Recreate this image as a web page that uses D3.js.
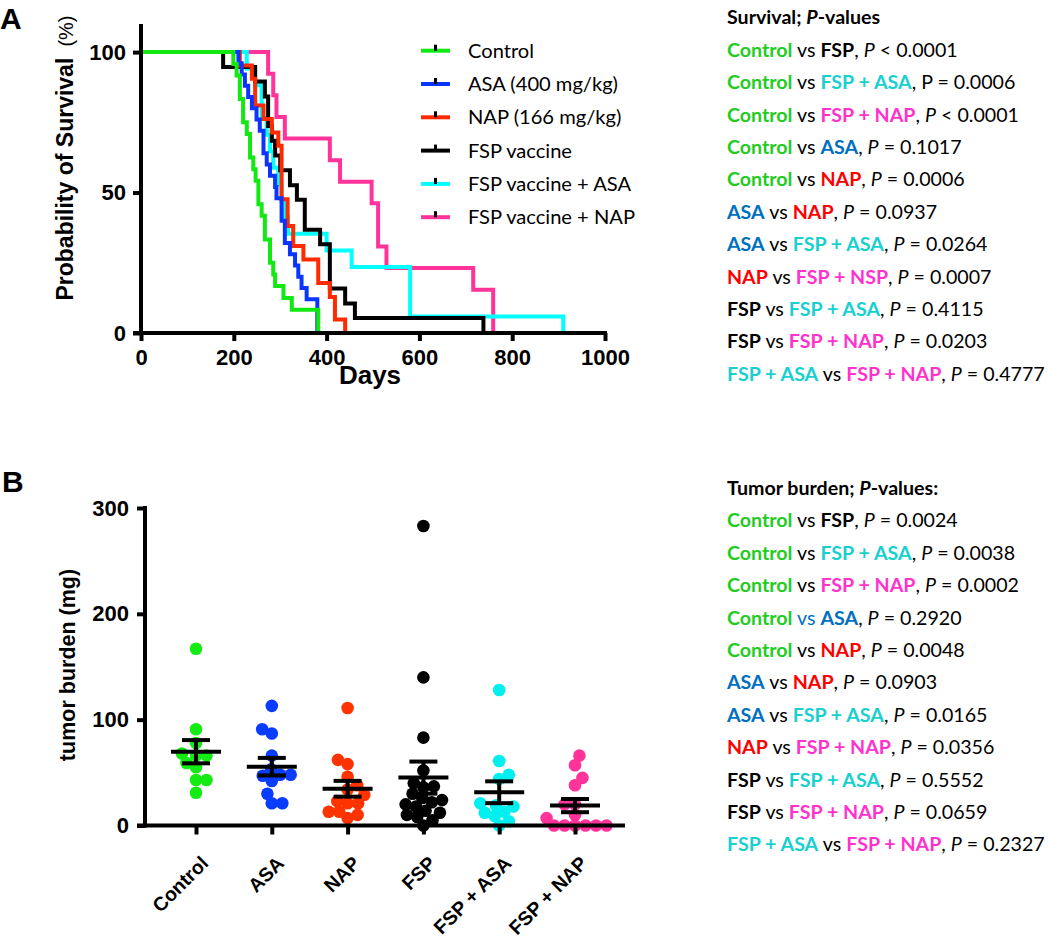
<!DOCTYPE html>
<html><head><meta charset="utf-8">
<script src="https://cdn.jsdelivr.net/npm/d3@7"></script>
<style>body{margin:0;background:#fff}svg{display:block}</style>
</head><body>
<svg id="c" width="1050" height="941"></svg>
<script>
// ---------------- DATA ----------------
// Panel A: Kaplan-Meier survival steps [day, % surviving after event]
const survivalGroups = ["Control","ASA (400 mg/kg)","NAP (166 mg/kg)","FSP vaccine","FSP vaccine + ASA","FSP vaccine + NAP"];
const survControl = [[0,100],[199,95.8],[206,91.7],[213,83.3],[220,75],[228,70.8],[235,62.5],[242,58.3],[247,54.2],[253,45.8],[260,41.7],[267,33.3],[278,25],[285,20.8],[289,16.7],[307,12.5],[325,8.3],[382,0]];
const survASA = [[0,100],[210,96],[217,92],[224,88],[231,84],[239,80],[249,76],[256,72],[264,64],[271,60],[278,56],[289,52],[292,48],[303,40],[310,32],[321,28],[332,24],[339,20],[346,16],[357,12],[380,0]];
const survNAP = [[0,100],[213,95.2],[239,90.5],[246,81],[264,76.2],[282,71.4],[296,66.7],[303,47.6],[316,38.1],[328,31],[350,26.2],[382,17.8],[407,12.8],[418,4.8],[440,0]];
const survFSP = [[0,100],[177,94.7],[246,89.5],[267,84.2],[274,73.7],[282,68.4],[289,63.2],[300,57.9],[321,52.6],[336,47.4],[353,36.8],[386,31.6],[407,15.8],[440,10.5],[461,5.3],[738,0]];
const survFSPASA = [[0,100],[228,94.1],[246,88.2],[260,76.5],[271,70.6],[278,64.7],[285,58.8],[296,52.9],[303,47.1],[310,41.2],[317,35.3],[400,29.4],[454,23.5],[580,5.9],[910,0]];
const survFSPNAP = [[0,100],[274,92.3],[285,84.6],[292,76.9],[310,69.2],[407,61.5],[429,53.8],[497,46.2],[511,30.8],[529,23.1],[716,15.4],[759,0]];
const dayTicks = [0,200,400,600,800,1000];
const survTicks = [0,50,100];

// Panel B: tumor burden (mg) per mouse
const burdenCategories = ["Control","ASA","NAP","FSP","FSP + ASA","FSP + NAP"];
const burdenControl = [167,91,78,66,68,66,59,55,43,43,31];
const burdenASA = [113,91,87,66,53,48,48,47,42,30,21,21];
const burdenNAP = [111,62,58,46,38,34,29,23,21,21,13,13,10,7];
const burdenFSP = [283,140,83,52,40,37,36,30,26,24,22,20,18,14,12,10,8,5,0];
const burdenFSPASA = [128,61,48,44,21,19,18,13,12,9,4,0];
const burdenFSPNAP = [66,57,45,38,20,20,10,7,0,0,0,0,0,0];
const burdenTicks = [0,100,200,300];

// P-value tables
const survivalTitle = ["Survival; ","P","-values"];
const survivalRows = [
 ["Control","FSP","<","0.0001",true],
 ["Control","FSP + ASA","=","0.0006",false],
 ["Control","FSP + NAP","<","0.0001",true],
 ["Control","ASA","=","0.1017",true],
 ["Control","NAP","=","0.0006",true],
 ["ASA","NAP","=","0.0937",true],
 ["ASA","FSP + ASA","=","0.0264",true],
 ["NAP","FSP + NSP","=","0.0007",true],
 ["FSP","FSP + ASA","=","0.4115",true],
 ["FSP","FSP + NAP","=","0.0203",true],
 ["FSP + ASA","FSP + NAP","=","0.4777",true]];
const tumorTitle = ["Tumor burden; ","P","-values:"];
const tumorRows = [
 ["Control","FSP","=","0.0024",null],
 ["Control","FSP + ASA","=","0.0038",null],
 ["Control","FSP + NAP","=","0.0002",null],
 ["Control","ASA","=","0.2920","ASA"],
 ["Control","NAP","=","0.0048",null],
 ["ASA","NAP","=","0.0903",null],
 ["ASA","FSP + ASA","=","0.0165",null],
 ["NAP","FSP + NAP","=","0.0356",null],
 ["FSP","FSP + ASA","=","0.5552",null],
 ["FSP","FSP + NAP","=","0.0659",null],
 ["FSP + ASA","FSP + NAP","=","0.2327",null]];

// ---------------- STYLE ----------------
const curveColors = ["#12e812","#0a35ff","#ff2a00","#000000","#00ffff","#ff3399"];
const dotColors = ["#14ea14","#0a3cff","#ff3300","#000000","#00f0f0","#ff3399"];
const nameColor = {"Control":"#22cc22","FSP":"#000000","FSP + ASA":"#18d0d0","FSP + NAP":"#ff33cc","FSP + NSP":"#ff33cc","ASA":"#0070c0","NAP":"#ff0000"};
const fAxis = "'Liberation Sans', Arial, sans-serif";
const fText = "Lato, 'Open Sans', sans-serif";

const svg = d3.select("#c");

// ---------------- PANEL A ----------------
const xA = d3.scaleLinear().domain([0,1000]).range([141,605]);
const yA = d3.scaleLinear().domain([0,110]).range([333,24]);
const gA = svg.append("g");
const stepLine = d3.line().x(d=>xA(d[0])).y(d=>yA(d[1])).curve(d3.curveStepAfter);
const survSeries = [survControl,survASA,survNAP,survFSP,survFSPASA,survFSPNAP];
d3.range(survSeries.length).reverse().forEach(i=>{
  gA.append("path").attr("d",stepLine(survSeries[i])).attr("fill","none")
    .attr("stroke",curveColors[i]).attr("stroke-width",4).attr("stroke-linejoin","miter");
});
const axYA = gA.append("g").attr("transform",`translate(${xA(0)},0)`)
  .call(d3.axisLeft(yA).tickValues(survTicks).tickSize(8).tickPadding(7).tickSizeOuter(0));
const axXA = gA.append("g").attr("transform",`translate(0,${yA(0)})`)
  .call(d3.axisBottom(xA).tickValues(dayTicks).tickFormat(d3.format("d")).tickSize(8).tickPadding(8).tickSizeOuter(0));
[axYA,axXA].forEach(a=>{
  a.select(".domain").remove();
  a.selectAll(".tick line").attr("stroke","#000").attr("stroke-width",4);
  a.selectAll(".tick text").attr("fill","#000").style("font-family",fAxis).style("font-weight","bold").style("font-size","22px");
});
gA.append("line").attr("x1",xA(0)).attr("x2",xA(0)).attr("y1",yA(110)).attr("y2",yA(0)+2).attr("stroke","#000").attr("stroke-width",4);
gA.append("line").attr("x1",xA(0)-8).attr("x2",xA(1000)+2).attr("y1",yA(0)).attr("y2",yA(0)).attr("stroke","#000").attr("stroke-width",4);
gA.append("text").attr("x",370).attr("y",384).attr("text-anchor","middle")
  .style("font-family",fAxis).style("font-weight","bold").style("font-size","26px").text("Days");
const yLabA = gA.append("text").attr("transform","translate(73,158) rotate(-90)").attr("text-anchor","middle")
  .style("font-family",fAxis).style("font-size","23px").style("white-space","pre");
yLabA.append("tspan").style("font-weight","bold").text("Probability of Survival");
yLabA.append("tspan").style("font-size","20px").text("  (%)");
svg.append("text").attr("x",0).attr("y",29).style("font-family",fAxis).style("font-weight","bold").style("font-size","30px").text("A");

// legend
const legY = i => 50.7 + i*33.3;
const leg = gA.append("g");
survivalGroups.forEach((name,i)=>{
  leg.append("line").attr("x1",421).attr("x2",450).attr("y1",legY(i)).attr("y2",legY(i)).attr("stroke",curveColors[i]).attr("stroke-width",4);
  leg.append("rect").attr("x",434).attr("y",legY(i)-6).attr("width",3).attr("height",6).attr("fill","#000");
  leg.append("text").attr("class","legtxt").attr("x",468).attr("y",legY(i)+7).style("font-family",fText).style("font-size","20px").text(name);
});
{
  const ref = leg.selectAll(".legtxt").filter((d,i)=>i===3).node();
  const w = ref.getComputedTextLength();
  leg.selectAll(".legtxt").style("font-size",(20*104/w)+"px");
}

// ---------------- PANEL B ----------------
const xB = d3.scalePoint().domain(burdenCategories).range([196,575]);
const yB = d3.scaleLinear().domain([0,300]).range([825.5,508]);
const gB = svg.append("g");
const burdenSeries = [burdenControl,burdenASA,burdenNAP,burdenFSP,burdenFSPASA,burdenFSPNAP];
const R = 6.3, D = 10.5;
function swarm(values){
  const pts = values.map(v=>({v,y:yB(v)}));
  const order = pts.slice().sort((a,b)=>a.v-b.v);
  const placed = [];
  order.forEach(p=>{
    const blocked = [];
    placed.forEach(q=>{const dy=Math.abs(q.y-p.y); if(dy<D){const w=Math.sqrt(D*D-dy*dy); blocked.push([q.dx-w,q.dx+w]);}});
    const cands=[0]; blocked.forEach(b=>cands.push(b[0],b[1]));
    const ok=c=>blocked.every(b=>c<=b[0]+1e-6||c>=b[1]-1e-6);
    const bal = d3.sum(placed,q=>q.dx);
    let best=null;
    cands.filter(ok).forEach(c=>{
      if(best===null){best=c;return;}
      const a=Math.abs(c), b=Math.abs(best);
      if(a<b-1e-6) best=c;
      else if(Math.abs(a-b)<1e-6 && (bal>0 ? c<best : c>best)) best=c;
    });
    p.dx=best; placed.push(p);
  });
  return pts;
}
burdenSeries.forEach((vals,i)=>{
  const cx = xB(burdenCategories[i]);
  gB.append("g").selectAll("circle").data(swarm(vals)).join("circle")
    .attr("cx",d=>cx+d.dx).attr("cy",d=>d.y).attr("r",R).attr("fill",dotColors[i]);
});
burdenSeries.forEach((vals,i)=>{
  const cx = xB(burdenCategories[i]);
  const m = d3.mean(vals), s = d3.deviation(vals)/Math.sqrt(vals.length);
  const g = gB.append("g").attr("stroke","#000").attr("stroke-width",4);
  g.append("line").attr("x1",cx-25).attr("x2",cx+25).attr("y1",yB(m)).attr("y2",yB(m));
  g.append("line").attr("x1",cx).attr("x2",cx).attr("y1",yB(m+s)).attr("y2",yB(m-s));
  g.append("line").attr("x1",cx-14).attr("x2",cx+14).attr("y1",yB(m+s)).attr("y2",yB(m+s));
  g.append("line").attr("x1",cx-14).attr("x2",cx+14).attr("y1",yB(m-s)).attr("y2",yB(m-s));
});
const axYB = gB.append("g").attr("transform","translate(145,0)")
  .call(d3.axisLeft(yB).tickValues(burdenTicks).tickSize(8).tickPadding(8).tickSizeOuter(0));
const axXB = gB.append("g").attr("transform",`translate(0,${yB(0)})`)
  .call(d3.axisBottom(xB).tickSize(9).tickSizeOuter(0));
[axYB,axXB].forEach(a=>{
  a.select(".domain").remove();
  a.selectAll(".tick line").attr("stroke","#000").attr("stroke-width",4);
  a.selectAll(".tick text").attr("fill","#000").style("font-family",fAxis).style("font-weight","bold").style("font-size","22px");
});
axXB.selectAll(".tick text").style("font-size","19.5px").attr("y",0).attr("dy",0).attr("text-anchor","end")
  .attr("transform","translate(13,39) rotate(-45)");
gB.append("line").attr("x1",145).attr("x2",145).attr("y1",yB(300)-2).attr("y2",yB(0)+2).attr("stroke","#000").attr("stroke-width",4);
gB.append("line").attr("x1",137).attr("x2",625).attr("y1",yB(0)).attr("y2",yB(0)).attr("stroke","#000").attr("stroke-width",4);
gB.append("text").attr("transform","translate(75,665) rotate(-90)").attr("text-anchor","middle")
  .style("font-family",fAxis).style("font-weight","bold").style("font-size","21.5px").text("tumor burden (mg)");
svg.append("text").attr("x",2).attr("y",492).style("font-family",fAxis).style("font-weight","bold").style("font-size","30px").text("B");

// ---------------- P-VALUE TABLES ----------------
const gT = svg.append("g").style("font-family",fText).style("font-size","20px");
function title(t,y){
  const el = gT.append("text").attr("x",727).attr("y",y).style("font-weight","bold").style("white-space","pre");
  el.append("tspan").text(t[0]);
  el.append("tspan").style("font-style","italic").text(t[1]);
  el.append("tspan").text(t[2]);
}
function row(r,y,italic,vsKey){
  const el = gT.append("text").attr("x",727).attr("y",y).style("white-space","pre");
  el.append("tspan").style("font-weight","bold").attr("fill",nameColor[r[0]]).text(r[0]);
  el.append("tspan").attr("fill",vsKey?nameColor[vsKey]:"#000").text(" vs ");
  el.append("tspan").style("font-weight","bold").attr("fill",nameColor[r[1]]).text(r[1]);
  el.append("tspan").attr("fill","#000").text(", ");
  el.append("tspan").attr("fill","#000").style("font-style",italic?"italic":"normal").text("P");
  el.append("tspan").attr("fill","#000").text(` ${r[2]} ${r[3]}`);
  return el;
}
title(survivalTitle,24.3);
let longest = null;
survivalRows.forEach((r,i)=>{ const e=row(r,24.3+32.4*(i+1),r[4],null); if(i===10) longest=e; });
title(tumorTitle,495);
tumorRows.forEach((r,i)=>row(r,495+32.4*(i+1),true,r[4]));
{
  const w = longest.node().getComputedTextLength();
  gT.style("font-size",(20*318/w)+"px");
}
</script>
</body></html>
